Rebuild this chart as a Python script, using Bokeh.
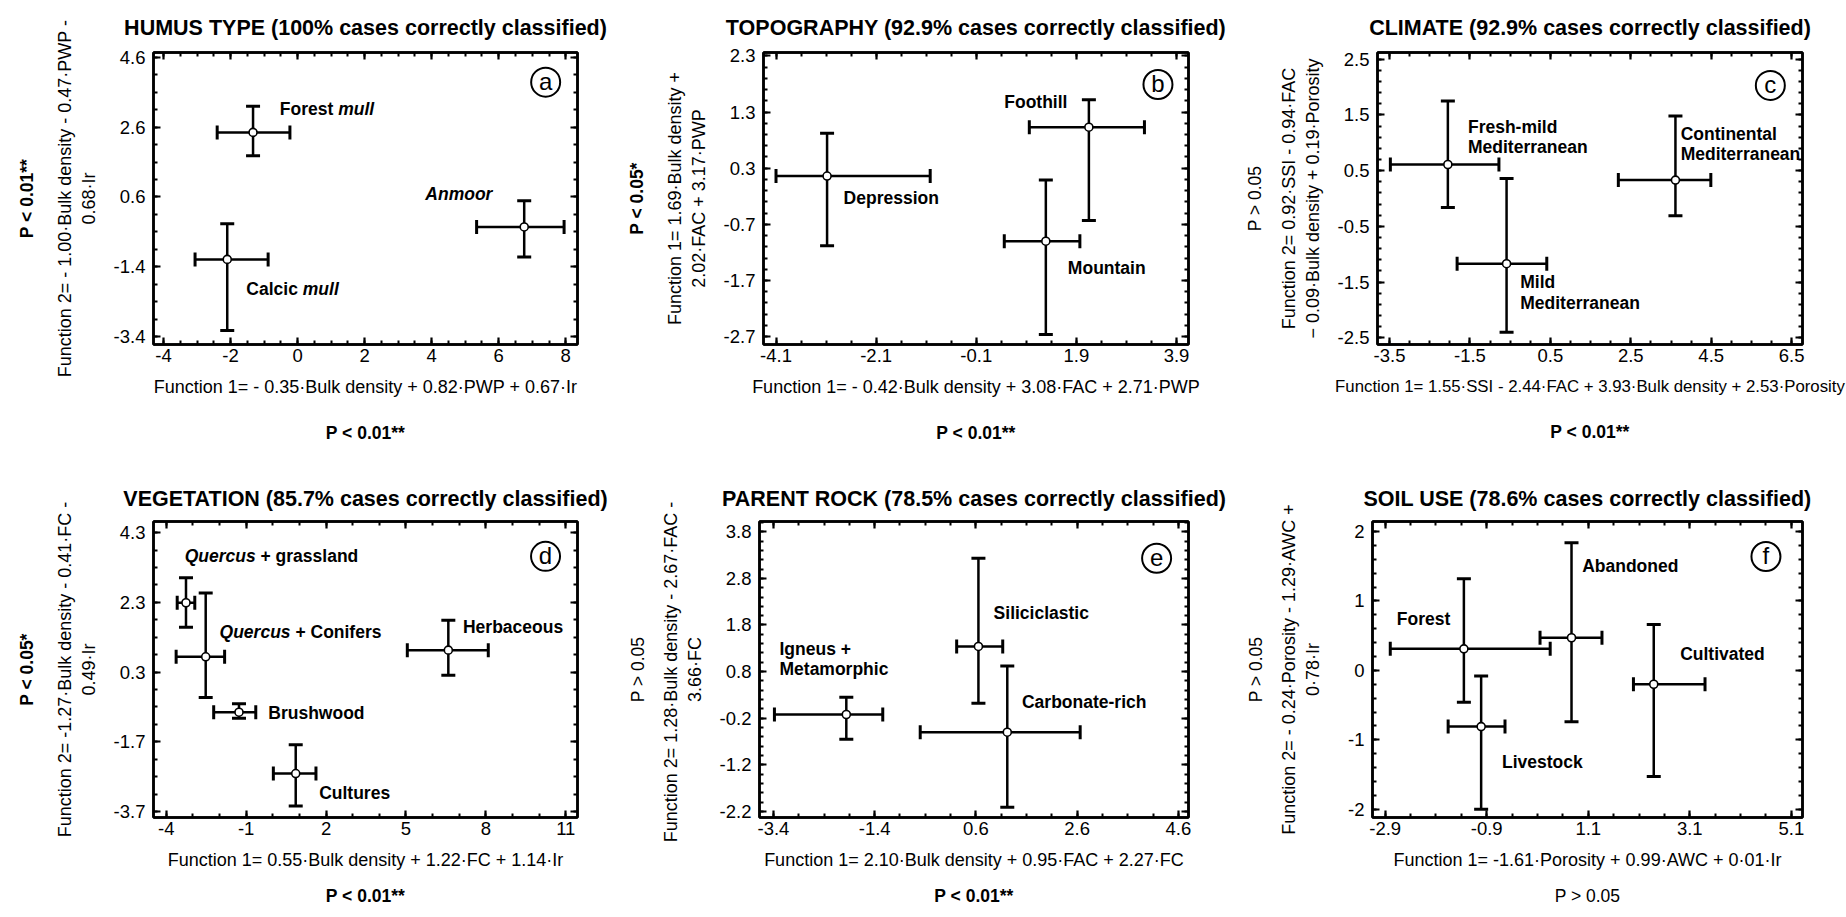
import math
import numpy as np
from bokeh.plotting import figure
from bokeh.models import ColumnDataSource, Whisker, TeeHead, Label, LinearAxis, FixedTicker, Title
from bokeh.layouts import column, row
from bokeh.embed import file_html
from bokeh.resources import INLINE

FONT = "Liberation Sans"

# ---------------- data ----------------
# (a) HUMUS TYPE
a_groups = ["Forest mull", "Anmoor", "Calcic mull"]
a_cx = [-1.33, 6.76, -2.10]
a_cy = [2.45, -0.26, -1.19]
a_xlo = [-2.40, 5.34, -3.06]
a_xhi = [-0.23, 7.95, -0.88]
a_ylo = [1.78, -1.12, -3.23]
a_yhi = [3.20, 0.49, -0.17]
a_xticks = ["-4", "-2", "0", "2", "4", "6", "8"]
a_yticks = ["-3.4", "-1.4", "0.6", "2.6", "4.6"]

# (b) TOPOGRAPHY
b_groups = ["Depression", "Foothill", "Mountain"]
b_cx = [-3.08, 2.15, 1.29]
b_cy = [0.16, 1.03, -1.00]
b_xlo = [-4.10, 0.96, 0.46]
b_xhi = [-1.02, 3.26, 1.97]
b_ylo = [-1.08, -0.63, -2.66]
b_yhi = [0.92, 1.52, 0.09]
b_xticks = ["-4.1", "-2.1", "-0.1", "1.9", "3.9"]
b_yticks = ["-2.7", "-1.7", "-0.7", "0.3", "1.3", "2.3"]

# (c) CLIMATE
c_groups = ["Fresh-mild Mediterranean", "Mild Mediterranean", "Continental Mediterranean"]
c_cx = [-2.05, -0.59, 3.61]
c_cy = [0.61, -1.17, 0.33]
c_xlo = [-3.48, -1.82, 2.19]
c_xhi = [-0.78, 0.41, 4.49]
c_ylo = [-0.16, -2.40, -0.31]
c_yhi = [1.75, 0.36, 1.48]
c_xticks = ["-3.5", "-1.5", "0.5", "2.5", "4.5", "6.5"]
c_yticks = ["-2.5", "-1.5", "-0.5", "0.5", "1.5", "2.5"]

# (d) VEGETATION
d_groups = ["Quercus + grassland", "Quercus + Conifers", "Brushwood", "Cultures", "Herbaceous"]
d_cx = [-3.26, -2.52, -1.27, 0.86, 6.59]
d_cy = [2.29, 0.74, -0.85, -2.61, 0.93]
d_xlo = [-3.59, -3.63, -2.22, 0.02, 5.05]
d_xhi = [-2.93, -1.81, -0.64, 1.62, 8.09]
d_ylo = [1.59, -0.43, -1.02, -3.54, 0.21]
d_yhi = [3.01, 2.57, -0.61, -1.78, 1.79]
d_xticks = ["-4", "-1", "2", "5", "8", "11"]
d_yticks = ["-3.7", "-1.7", "0.3", "2.3", "4.3"]

# (e) PARENT ROCK
e_groups = ["Igneus + Metamorphic", "Siliciclastic", "Carbonate-rich"]
e_cx = [-1.96, 0.65, 1.22]
e_cy = [-0.12, 1.34, -0.50]
e_xlo = [-3.38, 0.22, -0.50]
e_xhi = [-1.24, 1.13, 2.66]
e_ylo = [-0.65, 0.12, -2.11]
e_yhi = [0.25, 3.23, 0.92]
e_xticks = ["-3.4", "-1.4", "0.6", "2.6", "4.6"]
e_yticks = ["-2.2", "-1.2", "-0.2", "0.8", "1.8", "2.8", "3.8"]

# (f) SOIL USE
f_groups = ["Forest", "Abandoned", "Livestock", "Cultivated"]
f_cx = [-1.35, 0.77, -1.01, 2.39]
f_cy = [0.31, 0.47, -0.81, -0.20]
f_xlo = [-2.80, 0.15, -1.66, 1.99]
f_xhi = [0.35, 1.37, -0.54, 3.40]
f_ylo = [-0.46, -0.74, -2.00, -1.53]
f_yhi = [1.32, 1.84, -0.08, 0.66]
f_xticks = ["-2.9", "-0.9", "1.1", "3.1", "5.1"]
f_yticks = ["-2", "-1", "0", "1", "2"]

titles = ["HUMUS TYPE (100% cases correctly classified)",
          "TOPOGRAPHY (92.9% cases correctly classified)",
          "CLIMATE (92.9% cases correctly classified)",
          "VEGETATION (85.7% cases correctly classified)",
          "PARENT ROCK (78.5% cases correctly classified)",
          "SOIL USE (78.6% cases correctly classified)"]
x_labels = ["Function 1= - 0.35\u00b7Bulk density + 0.82\u00b7PWP + 0.67\u00b7Ir",
            "Function 1= - 0.42\u00b7Bulk density + 3.08\u00b7FAC + 2.71\u00b7PWP",
            "Function 1= 1.55\u00b7SSI - 2.44\u00b7FAC + 3.93\u00b7Bulk density + 2.53\u00b7Porosity",
            "Function 1= 0.55\u00b7Bulk density + 1.22\u00b7FC + 1.14\u00b7Ir",
            "Function 1= 2.10\u00b7Bulk density + 0.95\u00b7FAC + 2.27\u00b7FC",
            "Function 1= -1.61\u00b7Porosity + 0.99\u00b7AWC + 0\u00b701\u00b7Ir"]
y_labels = [("Function 2= - 1.00\u00b7Bulk density - 0.47\u00b7PWP -", "0.68\u00b7Ir"),
            ("Function 1= 1.69\u00b7Bulk density +", "2.02\u00b7FAC + 3.17\u00b7PWP"),
            ("Function 2= 0.92\u00b7SSI - 0.94\u00b7FAC", "\u2212 0.09\u00b7Bulk density + 0.19\u00b7Porosity"),
            ("Function 2= -1.27\u00b7Bulk density - 0.41\u00b7FC -", "0.49\u00b7Ir"),
            ("Function 2=  1.28\u00b7Bulk density - 2.67\u00b7FAC -", "3.66\u00b7FC"),
            ("Function 2= - 0.24\u00b7Porosity - 1.29\u00b7AWC +", "0\u00b778\u00b7Ir")]
# significance of each discriminant function (text, bold?)
x_sig = [("P < 0.01**", True)] * 5 + [("P > 0.05", False)]
y_sig = [("P < 0.01**", True), ("P < 0.05*", True), ("P > 0.05", False),
         ("P < 0.05*", True), ("P > 0.05", False), ("P > 0.05", False)]
letters = ["a", "b", "c", "d", "e", "f"]

# ---------------- layout / style ----------------
COLS = [dict(width=610, left=148, right=33),
        dict(width=622, left=149, right=44),
        dict(width=614, left=137, right=44)]
ROWS = [dict(height=470, top=51, bottom=126, p_standoff=42, title_standoff=26),
        dict(height=447, top=51, bottom=97, p_standoff=23, title_standoff=21)]
XLAB_SIZE = ["18px", "18px", "16.8px", "18px", "18px", "18px"]
YLAB_STANDOFF = [12, 12, 12, 12, 12, 22]
YP_STANDOFF = [29, 29, 21, 29, 20, 22]

PANELS = [
    dict(data=(a_cx, a_cy, a_xlo, a_xhi, a_ylo, a_yhi), xt=a_xticks, yt=a_yticks,
         xr=(-4.3, 8.35), yr=(-3.63, 4.74), xmin=0.5, ymin=0.5, letter=(7.4, 3.89),
         labels=[(-0.53, 3.13, [("Forest", False), ("mull", True)]),
                 (3.81, 0.69, [("Anmoor", True)]),
                 (-1.53, -2.04, [("Calcic", False), ("mull", True)])]),
    dict(data=(b_cx, b_cy, b_xlo, b_xhi, b_ylo, b_yhi), xt=b_xticks, yt=b_yticks,
         xr=(-4.35, 4.14), yr=(-2.84, 2.36), xmin=0.5, ymin=0.2, letter=(3.53, 1.79),
         labels=[(0.46, 1.47, [("Foothill", False)]),
                 (-2.75, -0.23, [("Depression", False)]),
                 (1.73, -1.48, [("Mountain", False)])]),
    dict(data=(c_cx, c_cy, c_xlo, c_xhi, c_ylo, c_yhi), xt=c_xticks, yt=c_yticks,
         xr=(-3.8, 6.77), yr=(-2.62, 2.62), xmin=0.5, ymin=0.2, letter=(5.97, 2.03),
         labels=[(-1.55, 1.29, [("Fresh-mild", False)]),
                 (-1.55, 0.93, [("Mediterranean", False)]),
                 (3.74, 1.15, [("Continental", False)]),
                 (3.74, 0.80, [("Mediterranean", False)]),
                 (-0.25, -1.49, [("Mild", False)]),
                 (-0.25, -1.87, [("Mediterranean", False)])]),
    dict(data=(d_cx, d_cy, d_xlo, d_xhi, d_ylo, d_yhi), xt=d_xticks, yt=d_yticks,
         xr=(-4.48, 11.44), yr=(-3.87, 4.62), xmin=1.0, ymin=0.5, letter=(10.24, 3.62),
         labels=[(-3.31, 3.62, [("Quercus", True), ("+ grassland", False)]),
                 (-2.0, 1.46, [("Quercus", True), ("+ Conifers", False)]),
                 (-0.17, -0.86, [("Brushwood", False)]),
                 (1.74, -3.16, [("Cultures", False)]),
                 (7.14, 1.58, [("Herbaceous", False)])]),
    dict(data=(e_cx, e_cy, e_xlo, e_xhi, e_ylo, e_yhi), xt=e_xticks, yt=e_yticks,
         xr=(-3.675, 4.8), yr=(-2.33, 4.02), xmin=0.5, ymin=0.2, letter=(4.17, 3.23),
         labels=[(-3.28, 1.28, [("Igneus +", False)]),
                 (-3.28, 0.85, [("Metamorphic", False)]),
                 (0.95, 2.06, [("Siliciclastic", False)]),
                 (1.51, 0.14, [("Carbonate-rich", False)])]),
    dict(data=(f_cx, f_cy, f_xlo, f_xhi, f_ylo, f_yhi), xt=f_xticks, yt=f_yticks,
         xr=(-3.15, 5.32), yr=(-2.12, 2.145), xmin=0.5, ymin=0.2, letter=(4.6, 1.64),
         labels=[(-2.67, 0.74, [("Forest", False)]),
                 (0.98, 1.5, [("Abandoned", False)]),
                 (2.91, 0.24, [("Cultivated", False)]),
                 (-0.6, -1.32, [("Livestock", False)])]),
]

# Arial / Liberation Sans bold advance widths (1/1000 em) for the mixed-style labels
W_BOLD = {" ": 278, "F": 611, "o": 611, "r": 389, "e": 556, "s": 556, "t": 333, "C": 722,
          "a": 556, "l": 278, "c": 556, "i": 278, "Q": 778, "u": 611}


def text_w(s, size):
    return sum(W_BOLD.get(ch, 556) for ch in s) * size / 1000.0


def add_label(p, text, x, y, size, bold=False, italic=False, align="left",
              baseline="middle", x_offset=0, y_offset=0):
    if bold and italic:
        style = "bold italic"
    elif bold:
        style = "bold"
    elif italic:
        style = "italic"
    else:
        style = "normal"
    p.add_layout(Label(x=x, y=y, text=text,
                       text_font=FONT, text_font_size=f"{size}px", text_font_style=style,
                       text_align=align, text_baseline=baseline,
                       x_offset=x_offset, y_offset=y_offset, text_color="black"))


def minors(majors, step, lo, hi):
    base = majors[0]
    n0 = math.floor((lo - base) / step)
    n1 = math.ceil((hi - base) / step)
    out = []
    for i in range(n0, n1 + 1):
        v = round(base + i * step, 4)
        if lo <= v <= hi:
            out.append(v)
    return out


def style_axis(ax, ticker, labels, overrides=None):
    ax.ticker = ticker
    ax.axis_line_width = 2.5
    ax.axis_line_color = "black"
    ax.major_tick_in = 7
    ax.major_tick_out = 0
    ax.minor_tick_in = 4
    ax.minor_tick_out = 0
    ax.major_tick_line_width = 2.2
    ax.minor_tick_line_width = 2
    ax.major_tick_line_color = "black"
    ax.minor_tick_line_color = "black"
    ax.axis_label = None
    if labels:
        ax.major_label_text_font = FONT
        ax.major_label_text_font_size = "18.5px"
        ax.major_label_text_color = "black"
        if overrides:
            ax.major_label_overrides = overrides
    else:
        ax.major_label_text_font_size = "1px"
        ax.major_label_text_color = None
        ax.major_label_standoff = 0


def style_axis_label(ax, text, size, standoff):
    ax.axis_label = text
    ax.axis_label_text_font = FONT
    ax.axis_label_text_font_size = size
    ax.axis_label_text_font_style = "normal"
    ax.axis_label_text_color = "black"
    ax.axis_label_standoff = standoff


def make_panel(i):
    spec = PANELS[i]
    col = COLS[i % 3]
    rw = ROWS[i // 3]
    x0, x1 = spec["xr"]
    y0, y1 = spec["yr"]

    p = figure(width=col["width"], height=rw["height"], x_range=spec["xr"], y_range=spec["yr"],
               output_backend="svg", toolbar_location=None, title=titles[i],
               min_border_left=col["left"], min_border_right=col["right"],
               min_border_top=rw["top"], min_border_bottom=rw["bottom"])
    p.title.align = "center"
    p.title.text_font = FONT
    p.title.text_font_size = "21.5px"
    p.title.text_font_style = "bold"
    p.title.text_color = "black"
    p.title.standoff = rw["title_standoff"]
    p.xgrid.visible = False
    p.ygrid.visible = False
    p.outline_line_color = "black"
    p.outline_line_width = 2.5
    p.background_fill_color = "white"
    p.border_fill_color = "white"

    xt = [float(t) for t in spec["xt"]]
    yt = [float(t) for t in spec["yt"]]
    xticker = FixedTicker(ticks=xt, minor_ticks=minors(xt, spec["xmin"], x0, x1))
    yticker = FixedTicker(ticks=yt, minor_ticks=minors(yt, spec["ymin"], y0, y1))

    bottom_ax = p.below[0]
    left_ax = p.left[0]
    style_axis(bottom_ax, xticker, True, {v: s for v, s in zip(xt, spec["xt"])})
    style_axis(left_ax, yticker, True, {v: s for v, s in zip(yt, spec["yt"])})
    bottom_ax.major_label_standoff = 4
    left_ax.major_label_standoff = 8
    top_ax = LinearAxis()
    right_ax = LinearAxis()
    style_axis(top_ax, xticker, False)
    style_axis(right_ax, yticker, False)
    p.add_layout(top_ax, "above")
    p.add_layout(right_ax, "right")

    # axis labels
    style_axis_label(bottom_ax, x_labels[i], XLAB_SIZE[i], 12)
    l1, l2 = y_labels[i]
    style_axis_label(left_ax, l1 + "\n" + l2, "18px", YLAB_STANDOFF[i])

    # significance of each function
    txt, bold = x_sig[i]
    p.add_layout(Title(text=txt, align="center", text_font=FONT, text_font_size="17.5px",
                       text_font_style="bold" if bold else "normal", text_color="black",
                       standoff=rw["p_standoff"]), "below")
    txt, bold = y_sig[i]
    p.add_layout(Title(text=txt, align="center", text_font=FONT, text_font_size="17.5px",
                       text_font_style="bold" if bold else "normal", text_color="black",
                       standoff=YP_STANDOFF[i]), "left")

    cx, cy, xlo, xhi, ylo, yhi = spec["data"]
    src = ColumnDataSource(dict(x=cx, y=cy, xl=xlo, xh=xhi, yl=ylo, yh=yhi))
    for base, lo, hi, dim in (("x", "yl", "yh", "height"), ("y", "xl", "xh", "width")):
        w = Whisker(source=src, base=base, lower=lo, upper=hi, dimension=dim,
                    line_width=2.5, line_color="black", level="underlay",
                    upper_head=TeeHead(size=14, line_width=3, line_color="black"),
                    lower_head=TeeHead(size=14, line_width=3, line_color="black"))
        p.add_layout(w)
    p.scatter("x", "y", source=src, size=8, marker="circle", fill_color="white",
              line_color="black", line_width=1.6)

    # group labels (bold, some words italic)
    lsize = 17.5
    for (lx, ly, parts) in spec["labels"]:
        off = 0.0
        for text, ital in parts:
            add_label(p, text, lx, ly, lsize, True, ital, x_offset=off)
            off += text_w(text + " ", lsize)

    # circled panel letter
    lx, ly = spec["letter"]
    p.scatter([lx], [ly], size=29, marker="circle", fill_color=None, line_color="black",
              line_width=2)
    add_label(p, letters[i], lx, ly, 24, align="center", y_offset=1)
    return p


figs = [make_panel(i) for i in range(6)]
layout = column(row(*figs[:3]), row(*figs[3:]))

with open("out.html", "w") as fh_:
    fh_.write(file_html(layout, INLINE))
